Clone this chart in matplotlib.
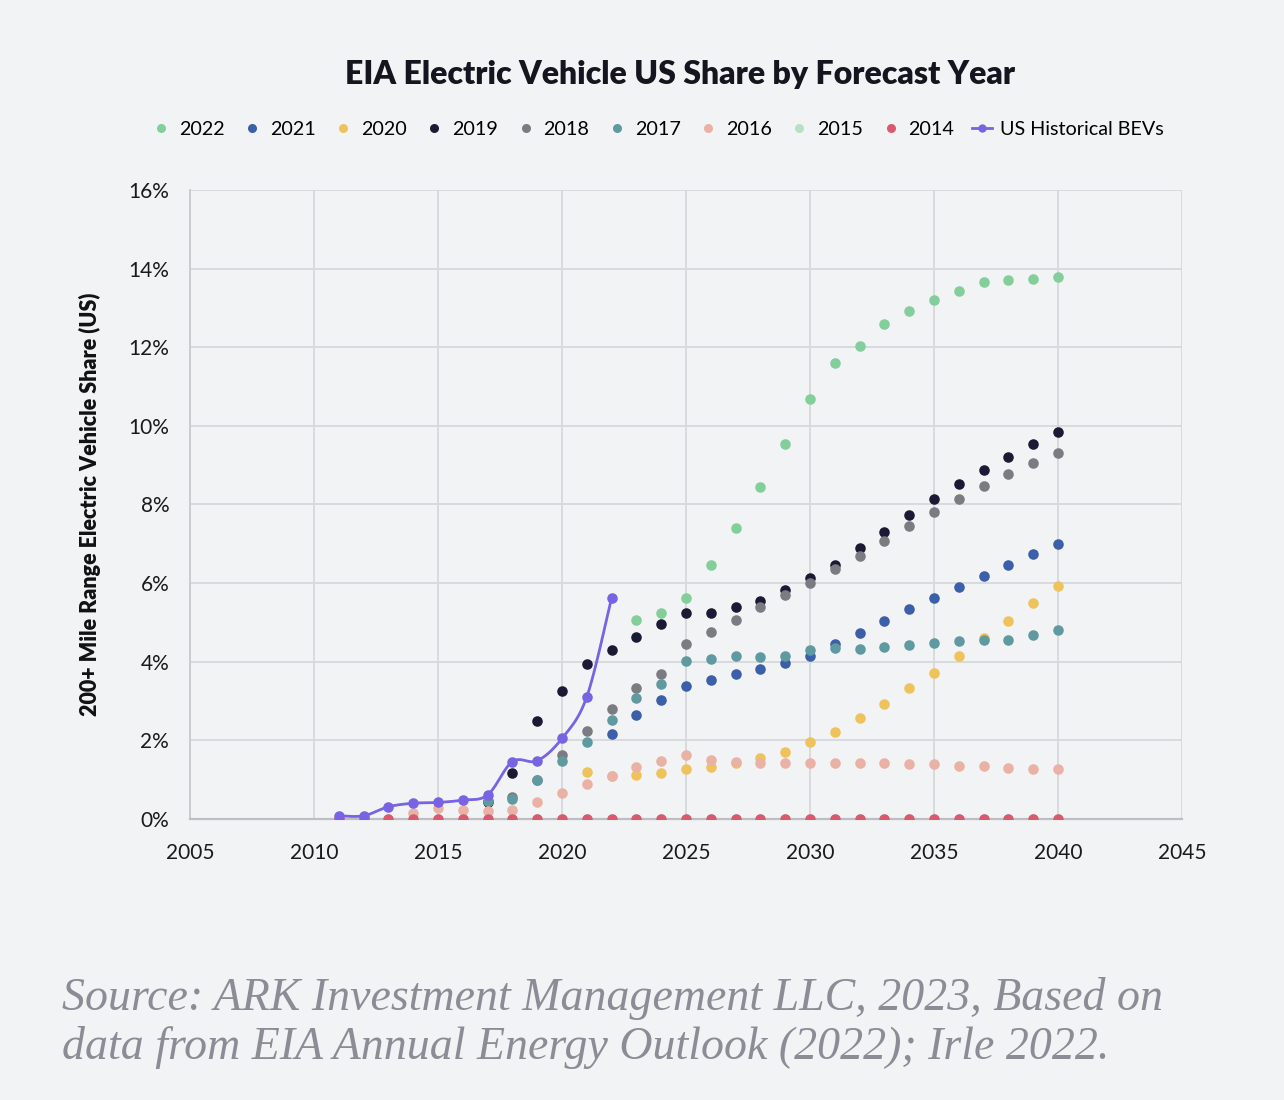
import numpy as np
import matplotlib
matplotlib.use("Agg")
import matplotlib.pyplot as plt
from matplotlib.lines import Line2D

# ---------------- data ----------------
years_2022 = list(range(2023, 2041))
share_2022 = [5.06, 5.23, 5.63, 6.46, 7.41, 8.45, 9.55, 10.69, 11.60, 12.02, 12.59,
              12.91, 13.19, 13.43, 13.65, 13.71, 13.73, 13.78]

years_2021 = list(range(2022, 2041))
share_2021 = [2.15, 2.65, 3.03, 3.39, 3.54, 3.69, 3.82, 3.97, 4.15, 4.44, 4.74, 5.04,
              5.33, 5.62, 5.90, 6.18, 6.47, 6.75, 7.00]

years_2020 = list(range(2021, 2041))
share_2020 = [1.19, 1.10, 1.12, 1.18, 1.26, 1.32, 1.42, 1.56, 1.71, 1.95, 2.22, 2.58,
              2.92, 3.33, 3.72, 4.15, 4.61, 5.04, 5.49, 5.93]

years_2019 = list(range(2017, 2041))
share_2019 = [0.42, 1.17, 2.50, 3.26, 3.95, 4.31, 4.62, 4.95, 5.23, 5.25, 5.38, 5.55,
              5.83, 6.12, 6.47, 6.88, 7.29, 7.72, 8.13, 8.53, 8.88, 9.21, 9.53, 9.85]

years_2018 = list(range(2017, 2041))
share_2018 = [0.46, 0.55, 0.98, 1.63, 2.24, 2.80, 3.32, 3.68, 4.45, 4.76, 5.05, 5.38,
              5.70, 6.01, 6.35, 6.69, 7.08, 7.45, 7.82, 8.14, 8.48, 8.78, 9.05, 9.31]

years_2017 = list(range(2017, 2041))
share_2017 = [0.46, 0.52, 0.99, 1.48, 1.96, 2.51, 3.07, 3.43, 4.02, 4.08, 4.15, 4.13,
              4.15, 4.30, 4.34, 4.32, 4.37, 4.43, 4.47, 4.53, 4.54, 4.55, 4.67, 4.80]

years_2016 = list(range(2014, 2041))
share_2016 = [0.16, 0.27, 0.23, 0.20, 0.24, 0.44, 0.65, 0.88, 1.09, 1.31, 1.48, 1.63,
              1.51, 1.44, 1.43, 1.43, 1.43, 1.43, 1.43, 1.42, 1.41, 1.40, 1.34, 1.34,
              1.30, 1.28, 1.26]

years_2015 = list(range(2013, 2041))
share_2015 = [0.0] * 28

years_2014 = list(range(2011, 2041))
share_2014 = [0.0] * 30

years_hist = list(range(2011, 2023))
share_hist = [0.08, 0.08, 0.31, 0.40, 0.42, 0.48, 0.61, 1.46, 1.48, 2.05, 3.11, 5.63]

series_labels = ["2022", "2021", "2020", "2019", "2018", "2017", "2016", "2015", "2014"]
series_colors = ["#82cf9c", "#3b5fa9", "#efc35c", "#1b1a35", "#7b7b82", "#5f9aa1",
                 "#eab2a4", "#b9dfc4", "#d95a6e"]
hist_label = "US Historical BEVs"
hist_color = "#7763e3"

x_ticks = [2005, 2010, 2015, 2020, 2025, 2030, 2035, 2040, 2045]
y_ticks = [0, 2, 4, 6, 8, 10, 12, 14, 16]

title = "EIA Electric Vehicle US Share by Forecast Year"
ylabel = "200+ Mile Range Electric Vehicle Share (US)"
source = ("Source: ARK Investment Management LLC, 2023, Based on\n"
          "data from EIA Annual Energy Outlook (2022); Irle 2022.")

# ---------------- style ----------------
BG = "#f2f3f5"
plt.rcParams["font.family"] = ["Lato", "DejaVu Sans"]

fig = plt.figure(figsize=(12.84, 11.0), dpi=100, facecolor=BG)
ax = fig.add_axes([0.148, 0.2555, 0.7726, 0.5718], facecolor=BG)

all_years = [years_2022, years_2021, years_2020, years_2019, years_2018,
             years_2017, years_2016, years_2015, years_2014]
all_vals = [share_2022, share_2021, share_2020, share_2019, share_2018,
            share_2017, share_2016, share_2015, share_2014]

handles = []
for i, (xs, ys, lab, col) in enumerate(zip(all_years, all_vals, series_labels, series_colors)):
    ax.plot(xs, ys, linestyle="none", marker="o", markersize=7.6,
            markerfacecolor=col, markeredgewidth=0, zorder=3 + i * 0.1)
    handles.append(Line2D([], [], linestyle="none", marker="o", markersize=6.5,
                          markerfacecolor=col, markeredgewidth=0, label=lab))


# smoothed line (Bezier through the data points, Excel-like)
def smooth_path(xs, ys, n=30):
    xs = np.asarray(xs, float)
    ys = np.asarray(ys, float)
    px, py = [], []
    for i in range(len(xs) - 1):
        x0, y0 = xs[max(i - 1, 0)], ys[max(i - 1, 0)]
        x1, y1 = xs[i], ys[i]
        x2, y2 = xs[i + 1], ys[i + 1]
        x3, y3 = xs[min(i + 2, len(xs) - 1)], ys[min(i + 2, len(xs) - 1)]
        c1x, c1y = x1 + (x2 - x0) / 6, y1 + (y2 - y0) / 6
        c2x, c2y = x2 - (x3 - x1) / 6, y2 - (y3 - y1) / 6
        t = np.linspace(0, 1, n)
        bx = (1 - t) ** 3 * x1 + 3 * (1 - t) ** 2 * t * c1x + 3 * (1 - t) * t ** 2 * c2x + t ** 3 * x2
        by = (1 - t) ** 3 * y1 + 3 * (1 - t) ** 2 * t * c1y + 3 * (1 - t) * t ** 2 * c2y + t ** 3 * y2
        px.extend(bx)
        py.extend(by)
    return px, py


sx, sy = smooth_path(years_hist, share_hist)
ax.plot(sx, sy, color=hist_color, linewidth=2.0, zorder=6)
ax.plot(years_hist, share_hist, linestyle="none", marker="o", markersize=7.6,
        markerfacecolor=hist_color, markeredgewidth=0, zorder=6.1)
handles.append(Line2D([], [], color=hist_color, linewidth=2.0, marker="o",
                      markersize=6, markeredgewidth=0, label=hist_label))

ax.set_xlim(2005, 2045)
ax.set_ylim(0, 16)
ax.set_xticks(x_ticks)
ax.set_yticks(y_ticks)
ax.set_yticklabels([f"{v}%" for v in y_ticks])
ax.grid(True, color="#d7d8db", linewidth=1.3, zorder=0)
ax.set_axisbelow(True)
for s in ["top", "right"]:
    ax.spines[s].set_visible(False)
ax.spines["left"].set_color("#c9cacd")
ax.spines["left"].set_linewidth(1.3)
ax.spines["bottom"].set_color("#bdbec1")
ax.spines["bottom"].set_linewidth(1.6)
ax.tick_params(axis="both", length=0, labelsize=15, colors="#1a1a1a")
ax.tick_params(axis="x", pad=17)
ax.tick_params(axis="y", pad=15)

ax.set_ylabel(ylabel, fontsize=15.5, fontweight="heavy", color="#111111", labelpad=20)

fig.text(0.53, 0.932, title, ha="center", va="center", fontsize=23,
         fontweight="heavy", color="#15151f")

fig.legend(handles=handles, loc="center", bbox_to_anchor=(0.512, 0.882), ncol=10,
           frameon=False, fontsize=14.2, handletextpad=0.4, columnspacing=0.9,
           handlelength=1.0, borderaxespad=0)

fig.text(0.048, 0.070, source, ha="left", va="center", fontsize=33,
         style="italic", family=["Liberation Serif", "DejaVu Serif"],
         color="#8c8c96", linespacing=1.2)

fig.savefig("out.png", dpi=100, facecolor=BG)
